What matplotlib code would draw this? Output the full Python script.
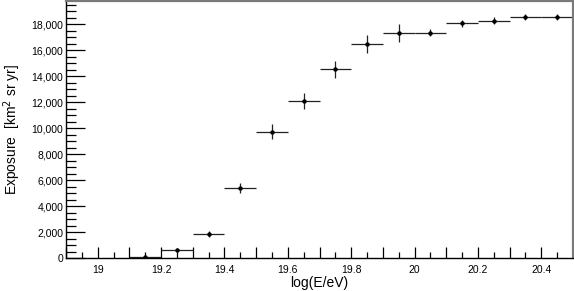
import matplotlib
matplotlib.use("Agg")
import matplotlib.pyplot as plt
import numpy as np
from matplotlib.ticker import FuncFormatter, MultipleLocator

plt.rcParams["font.family"] = ["Liberation Sans", "DejaVu Sans"]

# bin centres in log(E/eV), half bin width 0.05
log_e = [19.15, 19.25, 19.35, 19.45, 19.55, 19.65, 19.75,
         19.85, 19.95, 20.05, 20.15, 20.25, 20.35, 20.45]
half_width = 0.05
exposure = [60, 600, 1850, 5400, 9720, 12080, 14540,
            16500, 17330, 17360, 18080, 18280, 18560, 18560]
exposure_err = [30, 150, 200, 385, 580, 615, 650,
                680, 680, 270, 280, 280, 260, 260]

fig = plt.figure(figsize=(5.74, 2.91), dpi=100)
ax = fig.add_axes([66 / 574, 1 - 258 / 291, 507 / 574, 257 / 291])

ax.errorbar(log_e, exposure, xerr=half_width, yerr=exposure_err,
            fmt="o", ms=2.2, color="black", ecolor="#222222",
            elinewidth=0.9, capsize=0)

ax.set_xlim(18.9, 20.5)
ax.set_ylim(0, 19800)

ax.xaxis.set_major_locator(MultipleLocator(0.1))
ax.xaxis.set_minor_locator(MultipleLocator(0.05))
ax.xaxis.set_major_formatter(FuncFormatter(
    lambda v, p: (f"{v:g}" if abs(round(v * 5) - v * 5) < 1e-6 else "")))
ax.yaxis.set_major_locator(MultipleLocator(2000))
ax.yaxis.set_minor_locator(MultipleLocator(500))
ax.yaxis.set_major_formatter(FuncFormatter(lambda v, p: f"{int(v):,}"))

ax.tick_params(axis="both", which="both", direction="in", top=False,
               right=False, labelsize=7.5, width=0.9)
ax.tick_params(axis="x", which="major", length=8, pad=5)
ax.tick_params(axis="x", which="minor", length=4)
ax.tick_params(axis="y", which="major", length=14, pad=2)
ax.tick_params(axis="y", which="minor", length=7)

for side in ["left", "bottom"]:
    ax.spines[side].set_linewidth(1.0)
for side in ["top", "right"]:
    ax.spines[side].set_color("#7a7a7a")
    ax.spines[side].set_linewidth(1.6)

ax.set_xlabel("log(E/eV)", fontsize=10, labelpad=1)
ax.set_ylabel("Exposure  [km$^{2}$ sr yr]", fontsize=10, labelpad=6)
ax.xaxis.set_label_coords(0.5, -0.07)
ax.xaxis.label.set_horizontalalignment("center")

fig.savefig("out.png", dpi=100)
